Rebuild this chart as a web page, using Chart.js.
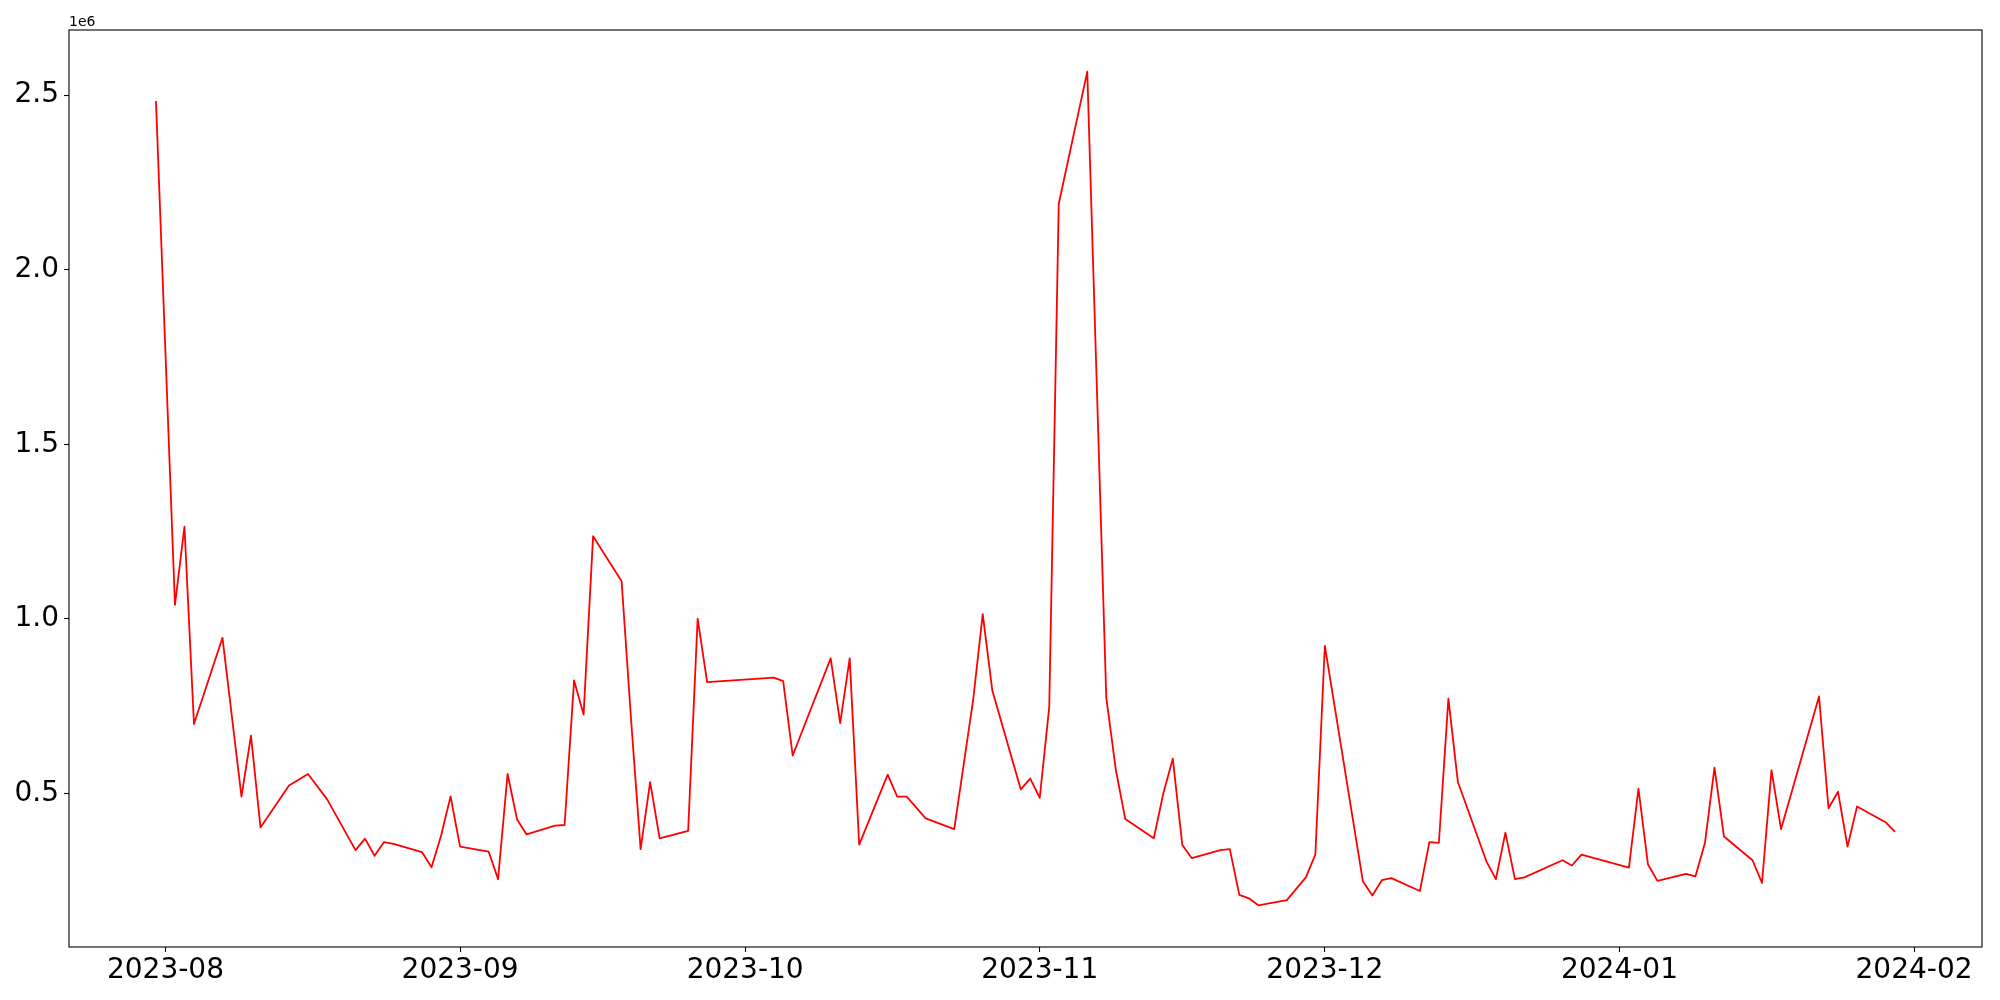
<!DOCTYPE html>
<html>
<head>
<meta charset="utf-8">
<script src="https://cdn.jsdelivr.net/npm/chart.js@4/dist/chart.umd.min.js"></script>
<style>
  html, body { margin: 0; padding: 0; background: #fff; }
  #chart { display: block; }
</style>
</head>
<body>
<canvas id="chart" width="2000" height="1000"></canvas>
<script>
// dates of each reading
const dates = [
    '2023-07-31', '2023-08-02', '2023-08-03', '2023-08-04', '2023-08-07', '2023-08-09', '2023-08-10', '2023-08-11',
    '2023-08-14', '2023-08-16', '2023-08-18', '2023-08-21', '2023-08-22', '2023-08-23', '2023-08-24', '2023-08-25',
    '2023-08-28', '2023-08-29', '2023-08-30', '2023-08-31', '2023-09-01', '2023-09-04', '2023-09-05', '2023-09-06',
    '2023-09-07', '2023-09-08', '2023-09-11', '2023-09-12', '2023-09-13', '2023-09-14', '2023-09-15', '2023-09-18',
    '2023-09-19', '2023-09-20', '2023-09-21', '2023-09-22', '2023-09-25', '2023-09-26', '2023-09-27', '2023-10-04',
    '2023-10-05', '2023-10-06', '2023-10-10', '2023-10-11', '2023-10-12', '2023-10-13', '2023-10-16', '2023-10-17',
    '2023-10-18', '2023-10-20', '2023-10-23', '2023-10-25', '2023-10-26', '2023-10-27', '2023-10-30', '2023-10-31',
    '2023-11-01', '2023-11-02', '2023-11-03', '2023-11-06', '2023-11-08', '2023-11-09', '2023-11-10', '2023-11-13',
    '2023-11-14', '2023-11-15', '2023-11-16', '2023-11-17', '2023-11-20', '2023-11-21', '2023-11-22', '2023-11-23',
    '2023-11-24', '2023-11-27', '2023-11-29', '2023-11-30', '2023-12-01', '2023-12-05', '2023-12-06', '2023-12-07',
    '2023-12-08', '2023-12-11', '2023-12-12', '2023-12-13', '2023-12-14', '2023-12-15', '2023-12-18', '2023-12-19',
    '2023-12-20', '2023-12-21', '2023-12-22', '2023-12-26', '2023-12-27', '2023-12-28', '2024-01-02', '2024-01-03',
    '2024-01-04', '2024-01-05', '2024-01-08', '2024-01-09', '2024-01-10', '2024-01-11', '2024-01-12', '2024-01-15',
    '2024-01-16', '2024-01-17', '2024-01-18', '2024-01-22', '2024-01-23', '2024-01-24', '2024-01-25', '2024-01-26',
    '2024-01-29', '2024-01-30'
];

const values = [
    2483000, 1040000, 1264000, 699000, 946000, 491000, 666000, 403000,
    523000, 556000, 484000, 338000, 371000, 322000, 361000, 356000,
    332000, 289000, 379000, 492000, 348000, 334000, 255000, 556000,
    426000, 383000, 408000, 410000, 824000, 726000, 1237000, 1108000,
    710000, 341000, 533000, 372000, 393000, 1001000, 819000, 832000,
    822000, 609000, 887000, 702000, 887000, 354000, 554000, 491000,
    491000, 429000, 398000, 770000, 1014000, 796000, 512000, 543000,
    488000, 748000, 2189000, 2567000, 775000, 569000, 427000, 372000,
    500000, 600000, 353000, 315000, 338000, 341000, 210000, 200000,
    180000, 195000, 260000, 325000, 923000, 249000, 208000, 252000,
    258000, 221000, 361000, 359000, 772000, 533000, 306000, 255000,
    388000, 255000, 260000, 309000, 294000, 325000, 288000, 514000,
    297000, 250000, 270000, 263000, 359000, 574000, 377000, 309000,
    244000, 567000, 398000, 778000, 458000, 505000, 348000, 463000,
    418000, 390000
];

const xTickDates = ['2023-08-01', '2023-09-01', '2023-10-01', '2023-11-01', '2023-12-01', '2024-01-01', '2024-02-01'];
const xTickLabels = ['2023-08', '2023-09', '2023-10', '2023-11', '2023-12', '2024-01', '2024-02'];
const yTicks = [500000, 1000000, 1500000, 2000000, 2500000];
const yTickLabels = ['0.5', '1.0', '1.5', '2.0', '2.5'];

function toMs(d) {
    return Date.parse(d + 'T00:00:00Z');
}

const points = dates.map((d, i) => ({ x: toMs(d), y: values[i] }));

// axis limits with a 5% margin like the original plot
const xFirst = toMs(dates[0]);
const xLast = toMs(dates[dates.length - 1]);
const xPad = (xLast - xFirst) * 0.05;
const yLo = Math.min(...values);
const yHi = Math.max(...values);
const yPad = (yHi - yLo) * 0.05;

const tickFont = { family: 'DejaVu Sans', size: 28 };

const framePlugin = {
    id: 'frame',
    afterDraw(chart) {
        const { ctx, chartArea } = chart;
        ctx.save();
        ctx.strokeStyle = '#000';
        ctx.lineWidth = 1.1;
        ctx.strokeRect(chartArea.left, chartArea.top, chartArea.right - chartArea.left, chartArea.bottom - chartArea.top);
        ctx.fillStyle = '#000';
        ctx.font = '14px "DejaVu Sans"';
        ctx.textAlign = 'left';
        ctx.textBaseline = 'alphabetic';
        ctx.fillText('1e6', chartArea.left, chartArea.top - 4);
        ctx.restore();
    }
};

new Chart(document.getElementById('chart'), {
    type: 'line',
    data: {
        datasets: [{
            data: points,
            borderColor: '#ff0000',
            borderWidth: 1.8,
            borderJoinStyle: 'round',
            pointRadius: 0,
            tension: 0,
            fill: false
        }]
    },
    options: {
        responsive: false,
        animation: false,
        layout: { padding: { top: 30, right: 18, left: 0, bottom: 0 } },
        plugins: {
            legend: { display: false },
            tooltip: { enabled: false }
        },
        scales: {
            x: {
                type: 'linear',
                min: xFirst - xPad,
                max: xLast + xPad,
                afterBuildTicks: scale => {
                    scale.ticks = xTickDates.map(d => ({ value: toMs(d) }));
                },
                afterFit: scale => { scale.height = 53; },
                ticks: {
                    autoSkip: false,
                    maxRotation: 0,
                    color: '#000',
                    font: tickFont,
                    padding: 2,
                    callback: (v, i) => xTickLabels[i]
                },
                grid: { drawOnChartArea: false, drawTicks: true, tickLength: 5, tickColor: '#000', tickWidth: 1.1 },
                border: { display: false }
            },
            y: {
                type: 'linear',
                min: yLo - yPad,
                max: yHi + yPad,
                afterBuildTicks: scale => {
                    scale.ticks = yTicks.map(v => ({ value: v }));
                },
                afterFit: scale => { scale.width = 69; },
                ticks: {
                    color: '#000',
                    font: tickFont,
                    padding: 5,
                    callback: (v, i) => yTickLabels[i]
                },
                grid: { drawOnChartArea: false, drawTicks: true, tickLength: 5, tickColor: '#000', tickWidth: 1.1 },
                border: { display: false }
            }
        }
    },
    plugins: [framePlugin]
});
</script>
</body>
</html>
